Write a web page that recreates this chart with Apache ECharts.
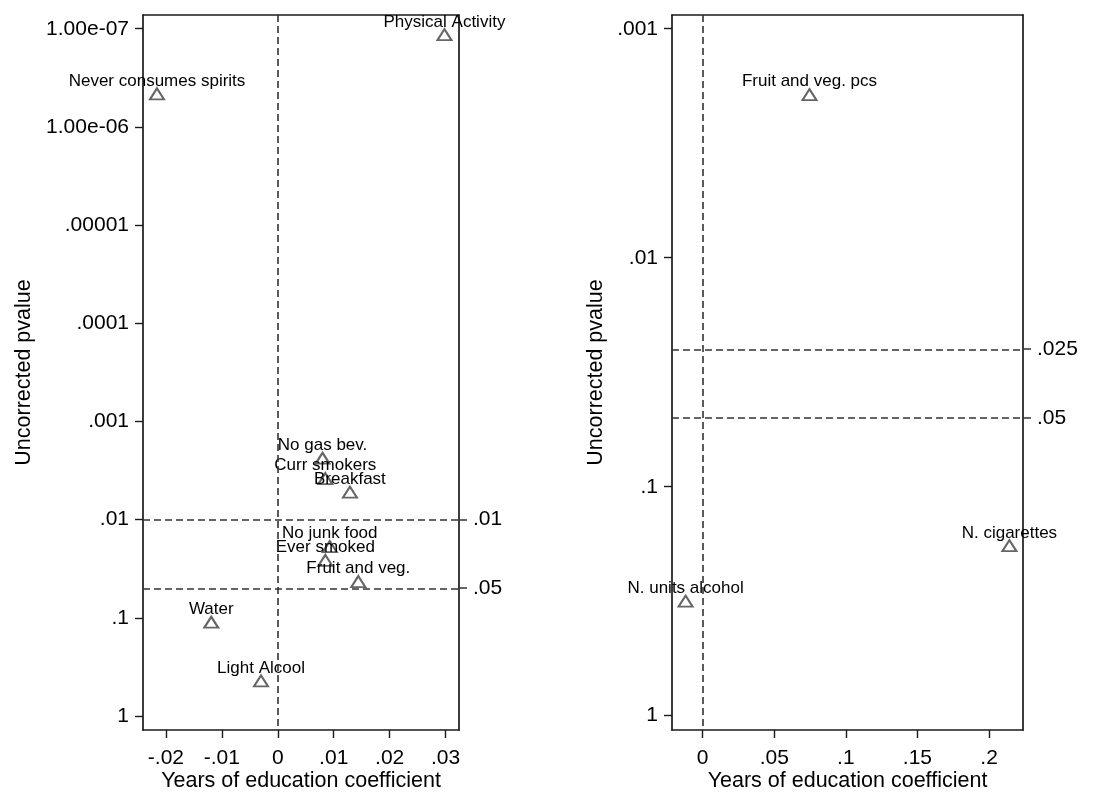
<!DOCTYPE html>
<html>
<head>
<meta charset="utf-8">
<script src="https://cdn.jsdelivr.net/npm/echarts@6/dist/echarts.min.js"></script>
<style>
html,body{margin:0;padding:0;background:#fff;}
#chart{width:1097px;height:792px;}
</style>
</head>
<body>
<div id="chart"></div>
<script>
// ---- data ----
var leftLabels = ['Physical Activity','Never consumes spirits','No gas bev.','Curr smokers','Breakfast','No junk food','Ever smoked','Fruit and veg.','Water','Light Alcool'];
var leftCoef   = [0.0298, -0.0216, 0.0080, 0.0085, 0.0129, 0.0093, 0.0085, 0.0144, -0.0119, -0.0030];
var leftP      = [1.15e-7, 4.6e-7, 0.00237, 0.00382, 0.00526, 0.0188, 0.026, 0.0428, 0.111, 0.44];

var rightLabels = ['Fruit and veg. pcs','N. cigarettes','N. units alcohol'];
var rightCoef   = [0.0746, 0.2142, -0.0119];
var rightP      = [0.00194, 0.181, 0.316];

var leftYTicks      = [1e-7, 1e-6, 1e-5, 1e-4, 1e-3, 0.01, 0.1, 1];
var leftYTickLabels = ['1.00e-07','1.00e-06','.00001','.0001','.001','.01','.1','1'];
var leftXTicks      = [-0.02, -0.01, 0, 0.01, 0.02, 0.03];
var leftXTickLabels = ['-.02','-.01','0','.01','.02','.03'];
var leftRefP        = [0.01, 0.05];
var leftRefLabels   = ['.01','.05'];

var rightYTicks      = [0.001, 0.01, 0.1, 1];
var rightYTickLabels = ['.001','.01','.1','1'];
var rightXTicks      = [0, 0.05, 0.1, 0.15, 0.2];
var rightXTickLabels = ['0','.05','.1','.15','.2'];
var rightRefP        = [0.025, 0.05];
var rightRefLabels   = ['.025','.05'];

var xTitle = 'Years of education coefficient';
var yTitle = 'Uncorrected pvalue';

// ---- helpers ----
function lg(v){ return Math.log10(v); }
function fmt(vals, labels){
  return function(v){
    var best = 0, d = Infinity;
    for (var i = 0; i < vals.length; i++) {
      var dd = Math.abs(vals[i] - v);
      if (dd < d) { d = dd; best = i; }
    }
    return labels[best];
  };
}
var FONT = 'Liberation Sans, Arial, sans-serif';
var TXT = '#000';
var LINE = { color: '#1a1a1a', width: 1.7 };

function points(coef, p, names){
  return coef.map(function(c, i){ return { name: names[i], value: [c, lg(p[i])] }; });
}

function xAxisCfg(gi, ticks, labels, min, max){
  return {
    type: 'value', gridIndex: gi, min: min, max: max, position: 'bottom',
    axisLine: { show: true, onZero: false, lineStyle: LINE },
    axisTick: { show: true, length: 8, lineStyle: { color: '#1a1a1a', width: 1.4 }, customValues: ticks },
    axisLabel: { show: true, customValues: ticks, formatter: fmt(ticks, labels), fontFamily: FONT, fontSize: 21, color: TXT, margin: 18 },
    splitLine: { show: false },
    name: xTitle, nameLocation: 'middle', nameGap: 40, nameMoveOverlap: false,
    nameTextStyle: { fontFamily: FONT, fontSize: 21.5, color: TXT }
  };
}
function xTopCfg(gi, min, max){
  return {
    type: 'value', gridIndex: gi, min: min, max: max, position: 'top',
    axisLine: { show: true, onZero: false, lineStyle: LINE },
    axisTick: { show: false }, axisLabel: { show: false }, splitLine: { show: false }
  };
}
function yAxisCfg(gi, ticks, labels, min, max, gap){
  var t = ticks.map(lg);
  return {
    type: 'value', gridIndex: gi, min: min, max: max, inverse: true, position: 'left',
    axisLine: { show: true, onZero: false, lineStyle: LINE },
    axisTick: { show: true, length: 8, lineStyle: { color: '#1a1a1a', width: 1.4 }, customValues: t },
    axisLabel: { show: true, customValues: t, formatter: fmt(t, labels), fontFamily: FONT, fontSize: 21, color: TXT, margin: 14 },
    splitLine: { show: false },
    name: yTitle, nameLocation: 'middle', nameGap: gap, nameRotate: 90, nameMoveOverlap: false,
    nameTextStyle: { fontFamily: FONT, fontSize: 21.5, color: TXT }
  };
}
function yRightCfg(gi, refs, labels, min, max){
  var t = refs.map(lg);
  return {
    type: 'value', gridIndex: gi, min: min, max: max, inverse: true, position: 'right',
    axisLine: { show: true, onZero: false, lineStyle: LINE },
    axisTick: { show: true, length: 8, lineStyle: { color: '#333', width: 1.5 }, customValues: t },
    axisLabel: { show: true, customValues: t, formatter: fmt(t, labels), fontFamily: FONT, fontSize: 21, color: TXT, margin: 14 },
    splitLine: { show: false }
  };
}
var dash = { color: '#333', width: 1.6, type: [7, 4] };
function seriesCfg(xi, yi, data, refs){
  var ml = [{ xAxis: 0 }].concat(refs.map(function(r){ return { yAxis: lg(r) }; }));
  return {
    type: 'scatter', xAxisIndex: xi, yAxisIndex: yi, data: data,
    symbol: 'triangle', symbolSize: [14, 11],
    itemStyle: { color: 'rgba(255,255,255,0)', borderColor: '#666', borderWidth: 2, opacity: 1 },
    label: { show: true, position: 'top', distance: 1, offset: [0, 3], formatter: '{b}', fontFamily: FONT, fontSize: 17, color: TXT, opacity: 1 },
    emphasis: { disabled: true },
    markLine: { silent: true, symbol: 'none', label: { show: false }, lineStyle: dash, data: ml, animation: false },
    z: 3
  };
}

var option = {
  animation: false,
  backgroundColor: '#fff',
  grid: [
    { left: 143, top: 15, width: 316, height: 715, outerBoundsMode: 'none' },
    { left: 672, top: 15, width: 351, height: 715, outerBoundsMode: 'none' }
  ],
  xAxis: [
    xAxisCfg(0, leftXTicks, leftXTickLabels, -0.0241, 0.0324),
    xAxisCfg(1, rightXTicks, rightXTickLabels, -0.0214, 0.2237),
    xTopCfg(0, -0.0241, 0.0324),
    xTopCfg(1, -0.0214, 0.2237)
  ],
  yAxis: [
    yAxisCfg(0, leftYTicks, leftYTickLabels, -7.14, 0.143, 108),
    yAxisCfg(1, rightYTicks, rightYTickLabels, -3.06, 0.0625, 65),
    yRightCfg(0, leftRefP, leftRefLabels, -7.14, 0.143),
    yRightCfg(1, rightRefP, rightRefLabels, -3.06, 0.0625)
  ],
  series: [
    seriesCfg(0, 0, points(leftCoef, leftP, leftLabels), leftRefP),
    seriesCfg(1, 1, points(rightCoef, rightP, rightLabels), rightRefP)
  ]
};
var chart = echarts.init(document.getElementById('chart'), null, { renderer: 'canvas' });
chart.setOption(option);
</script>
</body>
</html>
